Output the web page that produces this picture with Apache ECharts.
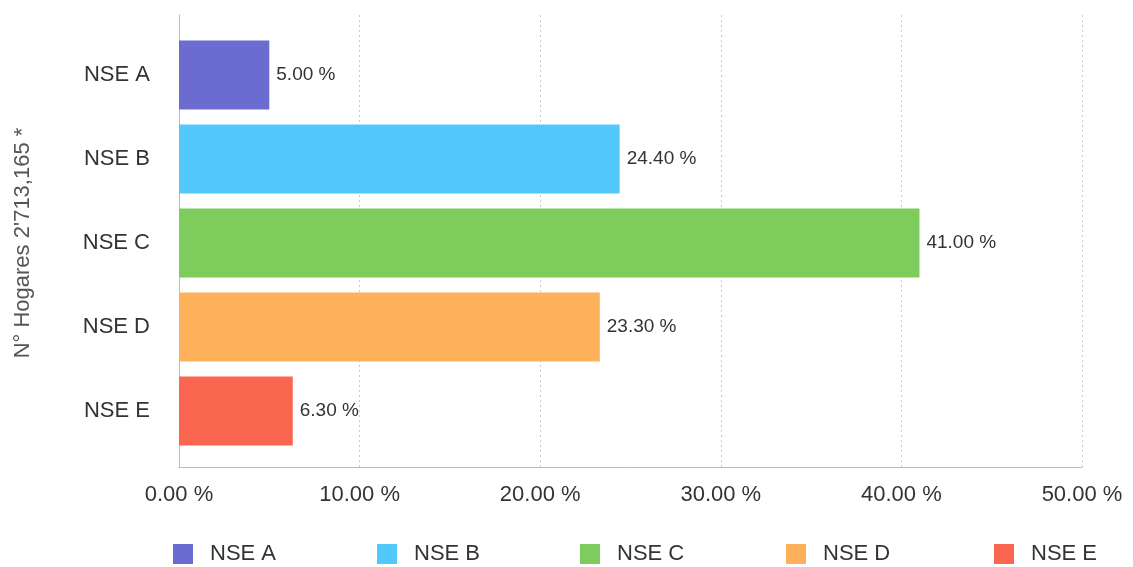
<!DOCTYPE html>
<html>
<head>
<meta charset="utf-8">
<script src="https://cdn.jsdelivr.net/npm/echarts@6/dist/echarts.min.js"></script>
<style>
  html, body { margin: 0; padding: 0; background: #fff; }
  #chart { width: 1133px; height: 567px; }
</style>
</head>
<body>
<div id="chart"></div>
<script>
// Households by socioeconomic level (percent)
const categories = ['NSE A', 'NSE B', 'NSE C', 'NSE D', 'NSE E'];
const values = [5.0, 24.4, 41.0, 23.3, 6.3];
const colors = ['#6b6bd0', '#52c9fa', '#7ecc5c', '#fdb15b', '#fb6650'];
const xTicks = [0, 10, 20, 30, 40, 50];
const axisName = 'N° Hogares 2\'713,165 *';

const FONT = 'Liberation Sans, Arial, Helvetica, sans-serif';
const chart = echarts.init(document.getElementById('chart'));

// one series per level so each gets its own legend entry; stacking keeps bars centred
const series = categories.map((name, i) => ({
  name: name,
  type: 'bar',
  xAxisIndex: 1,
  yAxisIndex: 1,
  stack: 'all',
  barWidth: 69,
  itemStyle: { color: colors[i] },
  label: {
    show: true,
    position: 'right',
    distance: 7,
    color: '#333',
    fontSize: 19,
    fontFamily: FONT,
    formatter: p => p.value.toFixed(2) + ' %'
  },
  data: categories.map((c, j) => (j === i ? values[i] : '-'))
}));

const legendLefts = [173, 377, 580, 786, 994];
const legends = categories.map((name, i) => ({
  data: [name],
  left: legendLefts[i],
  top: 543,
  padding: 0,
  icon: 'rect',
  itemWidth: 20,
  itemHeight: 20,
  textStyle: { fontSize: 22, color: '#333', fontFamily: FONT, padding: [0, 0, 0, 12] }
}));

chart.setOption({
  animation: false,
  backgroundColor: '#fff',
  legend: legends,
  grid: [
    { left: 179, right: 51, top: 15, bottom: 100, outerBoundsMode: 'none', containLabel: false },
    { left: 179, right: 51, top: 33, bottom: 114, outerBoundsMode: 'none', containLabel: false }
  ],
  xAxis: [
    {
      type: 'value',
      gridIndex: 0,
      min: xTicks[0],
      max: xTicks[xTicks.length - 1],
      interval: 10,
      axisLine: { show: true, lineStyle: { color: '#bbb', width: 1 } },
      axisTick: { show: false },
      axisLabel: {
        color: '#333',
        fontSize: 22,
        fontFamily: FONT,
        margin: 17,
        formatter: v => v.toFixed(2) + ' %'
      },
      splitLine: { show: true, lineStyle: { color: '#c8c8c8', type: [2, 3], width: 1 } }
    },
    {
      type: 'value',
      gridIndex: 1,
      min: xTicks[0],
      max: xTicks[xTicks.length - 1],
      show: false
    }
  ],
  yAxis: [
    {
      type: 'value',
      gridIndex: 0,
      min: 0,
      max: 1,
      axisLine: { show: true, lineStyle: { color: '#bbb', width: 1 } },
      axisTick: { show: false },
      axisLabel: { show: false },
      splitLine: { show: false }
    },
    {
      type: 'category',
      gridIndex: 1,
      inverse: true,
      data: categories,
      axisLine: { show: false },
      axisTick: { show: false },
      axisLabel: { color: '#333', fontSize: 22, fontFamily: FONT, margin: 29 },
      name: axisName,
      nameLocation: 'middle',
      nameGap: 145,
      nameRotate: 90,
      nameTextStyle: { color: '#555', fontSize: 22, fontFamily: FONT }
    }
  ],
  series: series
});
</script>
</body>
</html>
